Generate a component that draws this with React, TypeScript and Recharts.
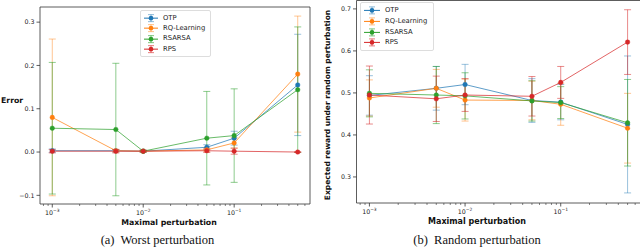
import { ErrorBar, LineChart, Line, XAxis, YAxis, ReferenceArea } from 'recharts'

const perturbations = [0.001, 0.005, 0.01, 0.05, 0.1, 0.5]

// (a) worst perturbation: error
const otpWorst = [0.003, 0.003, 0.002, 0.011, 0.032, 0.155]
const otpWorstErr = [0.004, 0.003, 0.002, 0.006, 0.016, 0.117]
const rqWorst = [0.08, 0.003, 0.002, 0.005, 0.021, 0.18]
const rqWorstErr = [0.181, 0.003, 0.002, 0.004, 0.012, 0.134]
const rsarsaWorst = [0.055, 0.052, 0.002, 0.032, 0.038, 0.144]
const rsarsaWorstErr = [0.152, 0.153, 0.002, 0.108, 0.108, 0.145]
const rpsWorst = [0.002, 0.002, 0.002, 0.003, 0.002, 0.0]
const rpsWorstErr = [0.004, 0.004, 0.002, 0.004, 0.007, 0.001]

// (b) random perturbation: expected reward
const otpRand = [0.494, 0.511, 0.52, 0.482, 0.478, 0.425]
const otpRandErr = [0.047, 0.052, 0.048, 0.052, 0.042, 0.163]
const rqRand = [0.488, 0.511, 0.483, 0.482, 0.473, 0.416]
const rqRandErr = [0.043, 0.045, 0.05, 0.046, 0.05, 0.083]
const rsarsaRand = [0.499, 0.495, 0.493, 0.481, 0.477, 0.429]
const rsarsaRandErr = [0.056, 0.068, 0.055, 0.048, 0.038, 0.103]
const rpsRand = [0.495, 0.486, 0.495, 0.492, 0.525, 0.621]
const rpsRandErr = [0.069, 0.054, 0.039, 0.047, 0.038, 0.077]

const xTicks = [
  0.0008, 0.0009, 0.001, 0.002, 0.003, 0.004, 0.005, 0.006, 0.007, 0.008, 0.009,
  0.01, 0.02, 0.03, 0.04, 0.05, 0.06, 0.07, 0.08, 0.09,
  0.1, 0.2, 0.3, 0.4, 0.5, 0.6,
]
const worstTicks = [-0.1, 0, 0.1, 0.2, 0.3]
const randTicks = [0.3, 0.4, 0.5, 0.6, 0.7]

const SERIES = [
  { key: 'otp', name: 'OTP', color: '#1f77b4', err: 'rgba(31,119,180,0.5)' },
  { key: 'rq', name: 'RQ-Learning', color: '#ff7f0e', err: 'rgba(255,127,14,0.5)' },
  { key: 'rsarsa', name: 'RSARSA', color: '#2ca02c', err: 'rgba(44,160,44,0.6)' },
  { key: 'rps', name: 'RPS', color: '#d62728', err: 'rgba(214,39,40,0.6)' },
]

const FONT = '"DejaVu Sans", sans-serif'
const AXIS = '#333'
const X_DOMAIN: [number, number] = [Math.pow(10, -3.135), Math.pow(10, -0.166)]

const worstData = perturbations.map((p, i) => ({
  p,
  otp: otpWorst[i], otpErr: otpWorstErr[i],
  rq: rqWorst[i], rqErr: rqWorstErr[i],
  rsarsa: rsarsaWorst[i], rsarsaErr: rsarsaWorstErr[i],
  rps: rpsWorst[i], rpsErr: rpsWorstErr[i],
}))

const randData = perturbations.map((p, i) => ({
  p,
  otp: otpRand[i], otpErr: otpRandErr[i],
  rq: rqRand[i], rqErr: rqRandErr[i],
  rsarsa: rsarsaRand[i], rsarsaErr: rsarsaRandErr[i],
  rps: rpsRand[i], rpsErr: rpsRandErr[i],
}))

function LogTick(props: any) {
  const { x, y, payload } = props
  const e = Math.log10(payload.value)
  const major = Math.abs(e - Math.round(e)) < 1e-6
  return (
    <g>
      <line x1={x} x2={x} y1={y} y2={y + (major ? 3.5 : 2)} stroke={AXIS} strokeWidth={major ? 0.8 : 0.6} />
      {major && (
        <text x={x} y={y + 10.5} textAnchor="middle" fontSize={6.3} fill="#222" fontFamily={FONT}>
          10
          <tspan fontSize={4.4} dy={-2.8}>{`−${-Math.round(e)}`}</tspan>
        </text>
      )}
    </g>
  )
}

const fmtY = (v: number) => (v < -1e-9 ? '−' : '') + Math.abs(v).toFixed(1)

function Panel({ data, yDomain, yTicks, width, margin, yWidth }: any) {
  return (
    <LineChart width={width} height={248} data={data} margin={margin}>
      <XAxis
        dataKey="p"
        type="number"
        scale="log"
        domain={X_DOMAIN}
        allowDataOverflow
        ticks={xTicks}
        interval={0}
        tick={<LogTick />}
        tickLine={false}
        tickSize={0}
        tickMargin={0}
        axisLine={false}
        height={20}
      />
      <YAxis
        type="number"
        domain={yDomain}
        allowDataOverflow
        ticks={yTicks}
        interval={0}
        width={yWidth}
        tickFormatter={fmtY}
        tick={{ fontSize: 6.3, fill: '#222', fontFamily: FONT }}
        tickSize={3.5}
        tickMargin={2}
        tickLine={{ stroke: AXIS, strokeWidth: 0.8 }}
        axisLine={false}
      />
      <ReferenceArea
        x1={X_DOMAIN[0]}
        x2={X_DOMAIN[1]}
        y1={yDomain[0]}
        y2={yDomain[1]}
        fill="none"
        stroke={AXIS}
        strokeWidth={0.8}
        ifOverflow="visible"
      />
      {SERIES.map((s) => (
        <Line
          key={s.key}
          dataKey={s.key}
          stroke={s.color}
          strokeOpacity={0.8}
          strokeWidth={0.9}
          dot={{ r: 2.3, fill: s.color, stroke: s.color, strokeWidth: 0.5 }}
          isAnimationActive={false}
        >
          <ErrorBar dataKey={`${s.key}Err`} width={3.5} stroke={s.err} strokeWidth={0.9} direction="y" />
        </Line>
      ))}
    </LineChart>
  )
}

function LegendBox({ left, top, rowH, iconW, fontSize, width }: any) {
  return (
    <div
      style={{
        position: 'absolute',
        left,
        top,
        width,
        padding: '2px 0',
        border: '1px solid #ddd',
        borderRadius: 2,
        background: 'rgba(255,255,255,0.85)',
        fontFamily: FONT,
        fontSize,
        color: '#222',
      }}
    >
      {SERIES.map((s) => (
        <div key={s.key} style={{ height: rowH, display: 'flex', alignItems: 'center' }}>
          <svg width={iconW + 6} height={rowH} style={{ marginLeft: 2 }}>
            <line x1={1} x2={iconW + 1} y1={rowH / 2} y2={rowH / 2} stroke={s.color} strokeWidth={1} />
            <line x1={iconW / 2 + 1} x2={iconW / 2 + 1} y1={rowH / 2 - 3.5} y2={rowH / 2 + 3.5} stroke={s.err} strokeWidth={1} />
            <line x1={iconW / 2 - 2} x2={iconW / 2 + 4} y1={rowH / 2 - 3.5} y2={rowH / 2 - 3.5} stroke={s.err} strokeWidth={1} />
            <line x1={iconW / 2 - 2} x2={iconW / 2 + 4} y1={rowH / 2 + 3.5} y2={rowH / 2 + 3.5} stroke={s.err} strokeWidth={1} />
            <circle cx={iconW / 2 + 1} cy={rowH / 2} r={2.3} fill={s.color} />
          </svg>
          <span style={{ lineHeight: 1 }}>{s.name}</span>
        </div>
      ))}
    </div>
  )
}

const labelStyle = {
  position: 'absolute' as const,
  fontFamily: FONT,
  fontWeight: 'bold' as const,
  whiteSpace: 'nowrap' as const,
  color: '#111',
  lineHeight: 1,
}

const captionStyle = {
  position: 'absolute' as const,
  fontFamily: '"Liberation Serif", serif',
  fontSize: 12.5,
  whiteSpace: 'nowrap' as const,
  color: '#111',
  lineHeight: 1,
  transform: 'translate(-50%, -50%)',
}

export default function App() {
  return (
    <div style={{ position: 'absolute', left: 0, top: 0, width: 640, height: 248, overflow: 'hidden', background: '#fff' }}>
      <div style={{ position: 'absolute', left: 0, top: 0 }}>
        <Panel
          data={worstData}
          yDomain={[-0.12, 0.335]}
          yTicks={worstTicks}
          width={320}
          yWidth={40}
          margin={{ top: 7, right: 10, left: 0, bottom: 24 }}
        />
      </div>
      <div style={{ position: 'absolute', left: 320, top: 0 }}>
        <Panel
          data={randData}
          yDomain={[0.238, 0.72]}
          yTicks={randTicks}
          width={330}
          yWidth={36.5}
          margin={{ top: 0.5, right: 9.5, left: 0, bottom: 25 }}
        />
      </div>
      <LegendBox left={140} top={10} rowH={10.3} iconW={14} fontSize={6.8} width={69} />
      <LegendBox left={360} top={2} rowH={10.8} iconW={16} fontSize={6.8} width={72} />

      <div style={{ ...labelStyle, fontSize: 7.8, left: 1, top: 97 }}>Error</div>
      <div style={{ ...labelStyle, fontSize: 7.8, left: 169, top: 223, transform: 'translate(-50%, -50%)' }}>
        Maximal perturbation
      </div>
      <div style={{ ...captionStyle, left: 157.5, top: 240 }}>(a)&nbsp; Worst perturbation</div>

      <div
        style={{
          ...labelStyle,
          fontSize: 7.5,
          left: 328,
          top: 105,
          transform: 'translate(-50%, -50%) rotate(-90deg)',
        }}
      >
        Expected reward under random perturbation
      </div>
      <div style={{ ...labelStyle, fontSize: 8, left: 477, top: 222, transform: 'translate(-50%, -50%)' }}>
        Maximal perturbation
      </div>
      <div style={{ ...captionStyle, left: 477, top: 240 }}>(b)&nbsp; Random perturbation</div>
    </div>
  )
}
